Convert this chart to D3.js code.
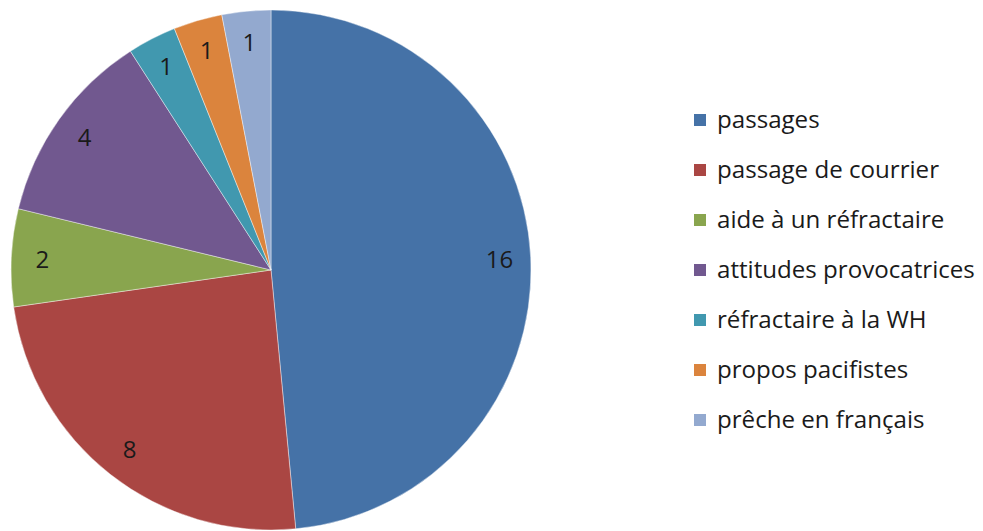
<!DOCTYPE html>
<html lang="fr">
<head>
<meta charset="utf-8">
<title>Motifs</title>
<script src="https://d3js.org/d3.v7.min.js"></script>
<style>
  body { margin: 0; background: #fff; }
  text { font-family: 'Open Sans', sans-serif; fill: #1a1a1a; }
</style>
</head>
<body>
<div id="chart"></div>
<script>
// data
var categories = ["passages", "passage de courrier", "aide à un réfractaire",
  "attitudes provocatrices", "réfractaire à la WH", "propos pacifistes", "prêche en français"];
var counts = [16, 8, 2, 4, 1, 1, 1];
var colours = ["#4572A7", "#AA4643", "#89A54E", "#71588F", "#4198AF", "#DB843D", "#93A9CF"];

var width = 983, height = 531;
var cx = 271, cy = 270, radius = 260;

var svg = d3.select("#chart").append("svg")
  .attr("width", width)
  .attr("height", height);

var data = categories.map(function(c, i) { return {name: c, value: counts[i], colour: colours[i]}; });

var pie = d3.pie().sort(null).value(function(d) { return d.value; });
var arc = d3.arc().innerRadius(0).outerRadius(radius);
var labelArc = d3.arc().innerRadius(radius * 0.88).outerRadius(radius * 0.88);

var g = svg.append("g").attr("transform", "translate(" + cx + "," + cy + ")");

var slices = g.selectAll("g.slice")
  .data(pie(data))
  .enter().append("g").attr("class", "slice");

slices.append("path")
  .attr("d", arc)
  .style("fill", function(d) { return d.data.colour; })
  .style("stroke", "#fff")
  .style("stroke-width", 0.7)
  .style("stroke-opacity", 0.6);

slices.append("text")
  .attr("transform", function(d) { return "translate(" + labelArc.centroid(d) + ")"; })
  .attr("text-anchor", "middle")
  .attr("dy", "0.36em")
  .style("font-size", "24px")
  .text(function(d) { return d.data.value; });

// legend
var legend = svg.append("g").attr("transform", "translate(694,120)");
var rowGap = 50;

var rows = legend.selectAll("g.row")
  .data(data)
  .enter().append("g")
  .attr("class", "row")
  .attr("transform", function(d, i) { return "translate(0," + (i * rowGap) + ")"; });

rows.append("rect")
  .attr("x", 0).attr("y", -6)
  .attr("width", 12).attr("height", 12)
  .style("fill", function(d) { return d.colour; });

var labels = rows.append("text")
  .attr("x", 23)
  .attr("dy", "0.35em")
  .style("font-size", "20px")
  .text(function(d) { return d.name; });

// fit font size so the longest legend entry matches the original width
var longest = labels.filter(function(d) { return d.name === "attitudes provocatrices"; }).node();
var w = longest.getComputedTextLength();
var fs = 20 * 258 / w;
labels.style("font-size", fs + "px");
</script>
</body>
</html>
